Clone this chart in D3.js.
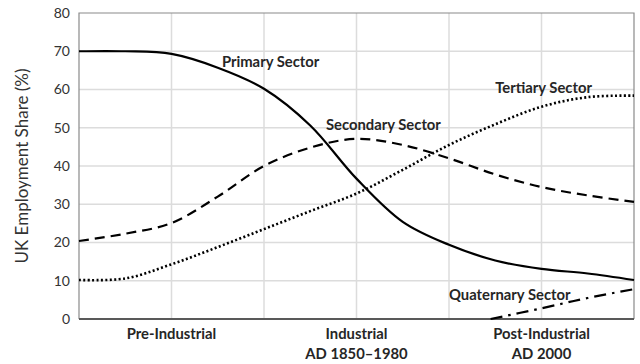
<!DOCTYPE html>
<html><head><meta charset="utf-8">
<script src="https://cdn.jsdelivr.net/npm/d3@7"></script>
<style>body{margin:0;background:#fff}svg{display:block}text{font-family:Lato,"Open Sans",sans-serif}</style>
</head><body><svg id="c" width="640" height="364"></svg>
<script>
const xSteps = [0,0.5,1,1.5,2,2.5,3,3.5,4,4.5,5,5.5,6];
const primary   = [70,70,69.3,65.7,60.2,50.6,36.7,25.4,19.4,15.3,13.1,11.9,10.2];
const secondary = [20.4,22.3,25.1,32,40,44.8,47.1,45.5,42,37.8,34.5,32.3,30.6];
const tertiary  = [10.2,10.6,14.3,18.8,23.5,28.2,32.8,39,45.5,50.9,55.5,58,58.4];
const quatX = [4.45,5,5.5,6];
const quaternary = [0,2.8,5.5,7.8];
const yTicks = [0,10,20,30,40,50,60,70,80];
const categories = [{pos:1, lines:["Pre-Industrial"]},{pos:3, lines:["Industrial","AD 1850\u20131980"]},{pos:5, lines:["Post-Industrial","AD 2000"]}];
const seriesLabels = [
  {text:"Primary Sector", x:1.545, y:66},
  {text:"Secondary Sector", x:2.67, y:49.4},
  {text:"Tertiary Sector", x:4.5, y:59},
  {text:"Quaternary Sector", x:4.0, y:5}
];

const svg = d3.select("#c");
const L=79,R=634,T=13,B=319;
const x = d3.scaleLinear().domain([0,6]).range([L,R]);
const y = d3.scaleLinear().domain([0,80]).range([B,T]);

// grid
svg.append("g").selectAll("line").data(yTicks.filter(d=>d>0&&d<80)).join("line")
  .attr("x1",L).attr("x2",R).attr("y1",d=>y(d)).attr("y2",d=>y(d))
  .attr("stroke","#dcdcdc").attr("stroke-width",1.5);
svg.append("g").selectAll("line").data(d3.range(1,6)).join("line")
  .attr("x1",d=>x(d)).attr("x2",d=>x(d)).attr("y1",T).attr("y2",B)
  .attr("stroke","#dcdcdc").attr("stroke-width",1.5);
// frame
svg.append("path").attr("d",`M${L},${B}V${T}H${R}V${B}`).attr("fill","none").attr("stroke","#8a8a8a").attr("stroke-width",1.2);
svg.append("line").attr("x1",L).attr("x2",R).attr("y1",B).attr("y2",B).attr("stroke","#595959").attr("stroke-width",1.8);

// y axis labels
const yAxis = d3.axisLeft(y).tickValues(yTicks).tickSize(0).tickPadding(9);
const ga = svg.append("g").attr("transform",`translate(${L},0)`).call(yAxis);
ga.select(".domain").remove();
ga.selectAll("text").attr("font-size",14).attr("fill","#333").style("font-family","Lato, sans-serif");

svg.append("text").attr("transform",`translate(28,${(T+B)/2}) rotate(-90)`)
  .attr("text-anchor","middle").attr("font-size",17).attr("fill","#333").text("UK Employment Share (%)");

// x labels
categories.forEach(c=>{
  c.lines.forEach((t,i)=>{
    svg.append("text").attr("x",x(c.pos)).attr("y",339+i*20).attr("text-anchor","middle")
      .attr("font-size",14.8).attr("font-weight","bold").attr("fill","#262626").text(t);
  });
});

const line = d3.line().x(d=>x(d[0])).y(d=>y(d[1])).curve(d3.curveCatmullRom.alpha(0.5));
const series = [
  {vals:d3.zip(xSteps,primary), dash:null, w:2.2},
  {vals:d3.zip(xSteps,secondary), dash:"10,6", w:2.2},
  {vals:d3.zip(xSteps,tertiary), dash:"2,2.4", w:2.6},
  {vals:d3.zip(quatX,quaternary), dash:"12,6,2.5,6", w:2.2}
];
series.forEach(s=>{
  const p = svg.append("path").attr("d",line(s.vals)).attr("fill","none").attr("stroke","#000")
    .attr("stroke-width",s.w);
  if(s.dash) p.attr("stroke-dasharray",s.dash);
});

svg.append("g").selectAll("text").data(seriesLabels).join("text")
  .attr("x",d=>x(d.x)).attr("y",d=>y(d.y)).attr("font-size",14.8).attr("font-weight","bold").attr("fill","#262626")
  .text(d=>d.text);
</script></body></html>
